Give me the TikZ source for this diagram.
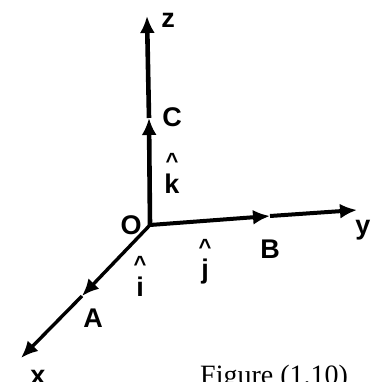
\documentclass[tikz,border=0pt]{standalone}
\usepackage{fontspec}
\usepackage{tikz}
\usetikzlibrary{arrows.meta, positioning}
\newfontfamily\labelfont{Liberation Sans}
\newfontfamily\capfont{Liberation Serif}
\tikzset{
	axisline/.style={line width=4.6pt, -{Latex[length=17pt, width=15pt]}},
	axislabel/.style={font=\labelfont\bfseries\fontsize{27}{29}\selectfont, inner sep=0pt},
	hatlabel/.style={font=\labelfont\bfseries\fontsize{22}{22}\selectfont, inner sep=0pt, anchor=base},
}

\begin{document}
\begin{tikzpicture}[x=1pt, y=1pt]
	\useasboundingbox (0,0) rectangle (379,382);
	% axes points
	\coordinate (O) at (150,157);
	\coordinate (zend) at (147,366);
	\coordinate (yend) at (357,172);
	\coordinate (xend) at (21,24);
	\coordinate (cmid) at (149,264);
	\coordinate (bmid) at (270,166);
	\coordinate (amid) at (82,86);
	% axes with mid arrows
	\draw[axisline] (O) -- (cmid);
	\draw[axisline] (cmid) -- (zend);
	\draw[axisline, line width=4pt] (O) -- (bmid);
	\draw[axisline, line width=4pt] (bmid) -- (yend);
	\draw[axisline, line width=3.4pt] (O) -- (amid);
	\draw[axisline, line width=3.4pt] (amid) -- (xend);
	% labels
	\node[axislabel] (olab) at (131,157) {O};
	\node[axislabel] (zlab) at (168,362) {z};
	\node[axislabel] (ylab) at (363,152) {y};
	\node[axislabel] (xlab) at (38,5) {x};
	\node[axislabel] (clab) at (172,265) {C};
	\node[axislabel] (blab) at (270,133) {B};
	\node[axislabel] (alab) at (93,64) {A};
	% unit vectors
	\node[axislabel] (kvec) at (172,198) {k};
	\node[axislabel] (jvec) at (205,110) {j};
	\node[axislabel] (ivec) at (140,95) {i};
	\node[hatlabel] (khat) at (172,213) {\textasciicircum};
	\node[hatlabel] (jhat) at (205,127) {\textasciicircum};
	\node[hatlabel] (ihat) at (140,110) {\textasciicircum};
	\node[font=\capfont\fontsize{28}{30}\selectfont, anchor=base west, inner sep=0pt] (cap) at (200,-2) {Figure (1.10)};
\end{tikzpicture}
\end{document}
